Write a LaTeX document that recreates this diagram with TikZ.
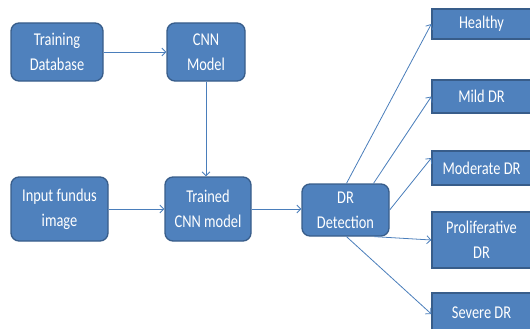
\documentclass[tikz,border=0pt]{standalone}
\usepackage{fontspec}
\setmainfont{Carlito}[FakeStretch=0.8]
\usetikzlibrary{arrows.meta}
\definecolor{boxfill}{HTML}{4F81BD}
\definecolor{boxedge}{HTML}{385D8A}
\definecolor{linkcol}{HTML}{4A7EBB}

\begin{document}
\begin{tikzpicture}[x=1pt,y=-1pt,
  box/.style={draw=boxedge, line width=1.3pt, fill=boxfill, text=white,
    font=\fontsize{18}{25}\selectfont, align=center, inner sep=0pt},
  rbox/.style={box, rounded corners=8pt},
  sbox/.style={box},
  link/.style={draw=linkcol, line width=0.8pt, -{Straight Barb[length=4pt,width=8pt]}}]

\useasboundingbox (0,0) rectangle (530,329);
\clip (0,0) rectangle (530,329);

% pipeline blocks
\node[rbox, minimum width=92pt, minimum height=58pt] (tdb) at (57,52) {Training\\Database};
\node[rbox, minimum width=78pt, minimum height=58pt] (cnn) at (206,52) {CNN\\Model};
\node[rbox, minimum width=97pt, minimum height=64pt] (inp) at (59.5,209) {Input fundus\\image};
\node[rbox, minimum width=86pt, minimum height=64pt] (trn) at (208,209) {Trained\\CNN model};
\node[rbox, minimum width=87pt, minimum height=52pt] (dr) at (345.5,210) {DR\\Detection};

% output classes
\node[sbox, minimum width=99pt, minimum height=30pt] (hl) at (481.5,24) {Healthy};
\node[sbox, minimum width=99pt, minimum height=33pt] (mi) at (481.5,96.5) {Mild DR};
\node[sbox, minimum width=99pt, minimum height=34pt] (mo) at (481.5,168) {Moderate DR};
\node[sbox, minimum width=99pt, minimum height=56pt] (pr) at (481.5,240) {Proliferative\\DR};
\node[sbox, minimum width=99pt, minimum height=40pt] (sv) at (481.5,313) {Severe DR};

% connectors
\draw[link] (tdb) -- (cnn);
\draw[link] (cnn.south) -- (cnn.south |- trn.north);
\draw[link] (inp) -- (trn);
\draw[link] (trn.east) -- (trn.east -| dr.west);
\draw[link] ([xshift=1pt]dr.north) -- (hl.west);
\draw[link] ([xshift=28pt]dr.north) -- (mi.west);
\draw[link] (dr.east) -- ([yshift=10pt]mo.west);
\draw[link] ([xshift=29pt]dr.south) -- (pr.west);
\draw[link] ([xshift=1pt]dr.south) -- ([yshift=-1pt]sv.west);
\end{tikzpicture}
\end{document}
